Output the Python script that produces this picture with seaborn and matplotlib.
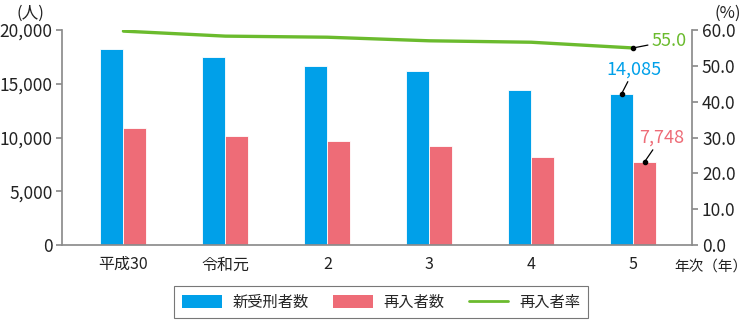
import numpy as np
import pandas as pd
import matplotlib
matplotlib.use("Agg")
import matplotlib.pyplot as plt
from matplotlib.patches import Patch
from matplotlib.lines import Line2D
import seaborn as sns

years = ["平成30", "令和元", "2", "3", "4", "5"]
new_inmates = [18272, 17464, 16620, 16152, 14460, 14085]
reentries = [10902, 10187, 9640, 9203, 8180, 7748]
reentry_rate = [59.7, 58.3, 58.0, 57.0, 56.6, 55.0]
series_names = ["新受刑者数", "再入者数", "再入者率"]

BLUE = "#00A0E9"
RED = "#EE6C77"
GREEN = "#6BBB2E"
GRAY = "#8c8c8c"

sns.set_theme(style="white")
plt.rcParams["font.family"] = ["Noto Sans CJK JP", "DejaVu Sans"]

df = pd.DataFrame({
    "year": years * 2,
    "series": [series_names[0]] * len(years) + [series_names[1]] * len(years),
    "value": new_inmates + reentries,
})
rate_df = pd.DataFrame({"pos": np.arange(len(years)), "rate": reentry_rate})

fig = plt.figure(figsize=(7.5, 3.23), dpi=100)
ax = fig.add_axes([0.083, 0.241, 0.84, 0.666])

sns.barplot(data=df, x="year", y="value", hue="series", order=years,
            palette=[BLUE, RED], width=0.45, gap=0.0, ax=ax, legend=False,
            saturation=1, edgecolor="white", linewidth=0.6)
ax.set_xlim(-0.6, 5.58)
ax.set_ylim(0, 20000)
ax.set_yticks([0, 5000, 10000, 15000, 20000])
ax.set_yticklabels(["0", "5,000", "10,000", "15,000", "20,000"])
ax.set_xlabel("")
ax.set_ylabel("")

ax2 = ax.twinx()
sns.lineplot(data=rate_df, x="pos", y="rate", color=GREEN, linewidth=2.4, ax=ax2, legend=False)
ax2.set_ylim(0, 60)
ax2.set_yticks(np.arange(0, 61, 10))
ax2.set_yticklabels([f"{v:.1f}" for v in np.arange(0, 61, 10)])
ax2.set_ylabel("")
ax2.set_xlabel("")
ax2.set_xlim(-0.6, 5.58)

for a in (ax, ax2):
    for s in a.spines.values():
        s.set_visible(False)
    a.tick_params(axis="both", colors="#222222", labelsize=12.5, length=0)
ax.spines["left"].set_visible(True)
ax.spines["left"].set_color(GRAY)
ax.spines["bottom"].set_visible(True)
ax.spines["bottom"].set_color(GRAY)
ax2.spines["right"].set_visible(True)
ax2.spines["right"].set_color(GRAY)
ax.tick_params(axis="y", length=4, color=GRAY, pad=3)
ax2.tick_params(axis="y", length=4, color=GRAY, pad=3)
ax.tick_params(axis="x", pad=8, labelsize=11.5)

# annotations for last year
last = len(years) - 1
bw = 0.225
ax.annotate(f"{new_inmates[last]:,}", xy=(last - bw / 2, new_inmates[last]),
            xytext=(9, 11), textcoords="offset points", color=BLUE, fontsize=13,
            ha="center", va="bottom",
            arrowprops=dict(arrowstyle="-", color="black", lw=0.9, shrinkA=0, shrinkB=0))
ax.plot([last - bw / 2], [new_inmates[last]], "o", color="black", ms=3)
ax.annotate(f"{reentries[last]:,}", xy=(last + bw / 2, reentries[last]),
            xytext=(12, 11), textcoords="offset points", color=RED, fontsize=13,
            ha="center", va="bottom",
            arrowprops=dict(arrowstyle="-", color="black", lw=0.9, shrinkA=0, shrinkB=0))
ax.plot([last + bw / 2], [reentries[last]], "o", color="black", ms=3)
ax2.annotate(f"{reentry_rate[last]:.1f}", xy=(last, reentry_rate[last]),
             xytext=(13, 5), textcoords="offset points", color=GREEN, fontsize=13,
             ha="left", va="center",
             arrowprops=dict(arrowstyle="-", color="black", lw=0.9, shrinkA=0, shrinkB=0))
ax2.plot([last], [reentry_rate[last]], "o", color="black", ms=3)

fig.text(0.04, 0.985, "(人)", fontsize=12, ha="center", va="top", color="#222222")
fig.text(0.97, 0.985, "(%)", fontsize=12, ha="center", va="top", color="#222222")
fig.text(0.997, 0.17, "年次（年）", fontsize=10.5, ha="right", va="center", color="#222222")

handles = [Patch(facecolor=BLUE, edgecolor="none"),
           Patch(facecolor=RED, edgecolor="none"),
           Line2D([0], [0], color=GREEN, lw=2)]
leg = fig.legend(handles, series_names, loc="center", bbox_to_anchor=(0.508, 0.065),
                 ncol=3, frameon=True, fancybox=False, fontsize=11,
                 handlelength=2.6, handleheight=0.9, columnspacing=1.6,
                 borderpad=0.5, handletextpad=0.7)
leg.get_frame().set_edgecolor("#555555")
leg.get_frame().set_linewidth(0.8)

fig.savefig("out.png", dpi=100)
